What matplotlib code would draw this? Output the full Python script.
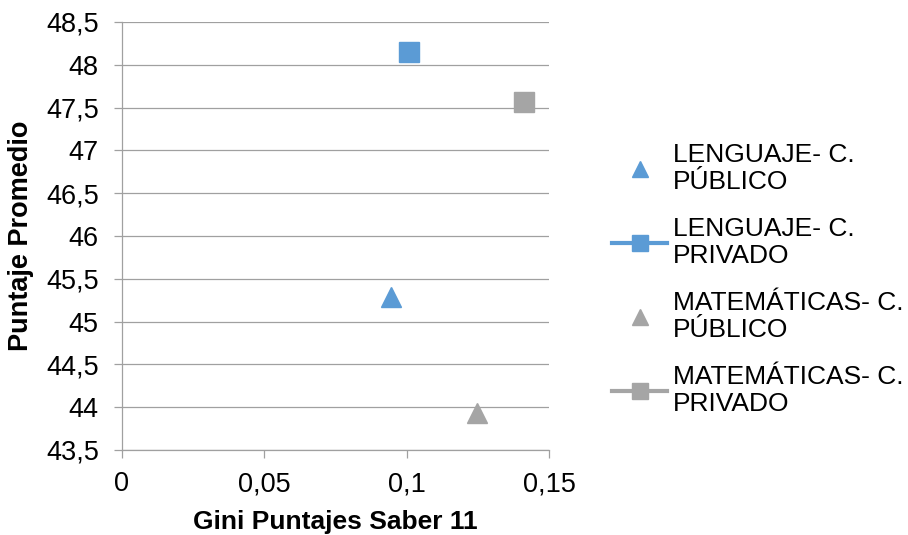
import numpy as np
import matplotlib
matplotlib.use('Agg')
import matplotlib.pyplot as plt
from matplotlib.ticker import FuncFormatter

plt.rcParams['font.family'] = ['Liberation Sans', 'DejaVu Sans']

series = ['LENGUAJE- C.\nPÚBLICO', 'LENGUAJE- C.\nPRIVADO',
          'MATEMÁTICAS- C.\nPÚBLICO', 'MATEMÁTICAS- C.\nPRIVADO']
gini = [0.0945, 0.1009, 0.1248, 0.1412]
puntaje = [45.29, 48.15, 43.93, 47.56]
markers = ['^', 's', '^', 's']
colors = ['#5B9BD5', '#5B9BD5', '#A5A5A5', '#A5A5A5']
has_line = [False, True, False, True]

fig = plt.figure(figsize=(9.08, 5.35), dpi=100)
ax = fig.add_axes([0.134, 0.159, 0.471, 0.800])

handles = []
for i in range(len(series)):
    h, = ax.plot([gini[i]], [puntaje[i]], marker=markers[i], markersize=14,
                 color=colors[i], linestyle='-' if has_line[i] else 'none',
                 linewidth=3, label=series[i])
    handles.append(h)

ax.set_xlim(0, 0.15)
ax.set_ylim(43.5, 48.5)
ax.set_xticks([0, 0.05, 0.1, 0.15])
ax.set_yticks(np.arange(43.5, 48.51, 0.5))
fmt = FuncFormatter(lambda v, p: ('%g' % round(v, 3)).replace('.', ','))
ax.xaxis.set_major_formatter(fmt)
ax.yaxis.set_major_formatter(fmt)

ax.grid(axis='y', color='#A0A0A0', linewidth=0.9)
ax.set_axisbelow(True)
for s in ['top', 'right']:
    ax.spines[s].set_visible(False)
for s in ['left', 'bottom']:
    ax.spines[s].set_color('#A0A0A0')
    ax.spines[s].set_linewidth(0.9)
ax.tick_params(axis='both', colors='#A0A0A0', labelcolor='black',
               labelsize=19.5, length=5.5, width=0.9, direction='out')
ax.tick_params(axis='y', pad=11)
ax.tick_params(axis='x', pad=10)

ax.set_xlabel('Gini Puntajes Saber 11', fontsize=19, fontweight='bold')
ax.set_ylabel('Puntaje Promedio', fontsize=19.5, fontweight='bold')
ax.xaxis.set_label_coords(0.5, -0.141)
ax.yaxis.set_label_coords(-0.205, 0.5)

leg = fig.legend(handles=handles, loc='upper left', bbox_to_anchor=(0.674, 0.732),
                 frameon=False, fontsize=19, handlelength=2.1, handletextpad=0.2,
                 labelspacing=0.9, markerscale=0.8, borderpad=0, borderaxespad=0)
for t in leg.get_texts():
    t.set_linespacing(1.12)

plt.savefig('out.png', dpi=100)
